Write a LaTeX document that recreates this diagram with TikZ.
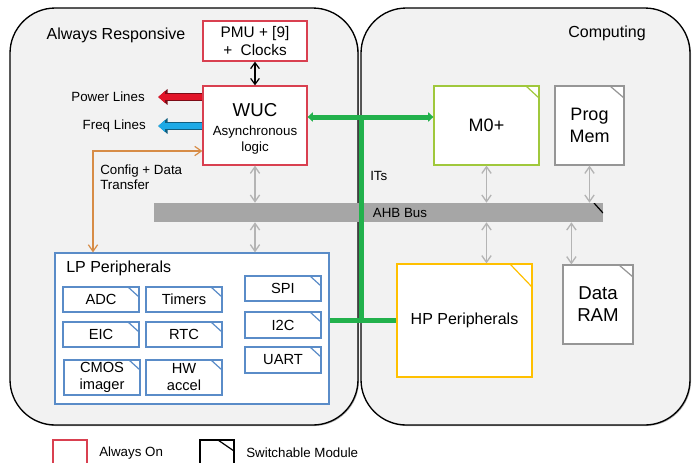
\documentclass[tikz,border=0pt]{standalone}
\usepackage{fontspec}
\setmainfont{Liberation Sans}
\usetikzlibrary{arrows.meta,positioning,shadows}
\newcommand\pxu{0.75pt}

\begin{document}
\begin{tikzpicture}[x=0.75pt,y=-0.75pt,
    every node/.style={inner sep=0pt, align=center},
    panel/.style n args={2}{draw=black, line width=1pt, fill=panelGray, rounded corners=34pt,
      drop shadow={shadow xshift=0.8pt, shadow yshift=-0.8pt, opacity=0.6},
      minimum width={#1*\pxu}, minimum height={#2*\pxu}},
    block/.style n args={3}{draw=#1, fill=white, line width=0.9pt,
      minimum width={#2*\pxu}, minimum height={#3*\pxu}},
    switchable/.style n args={3}{path picture={
      \draw[#1, line width=0.9pt] ([xshift={-#2*\pxu}]path picture bounding box.north east)
        -- ([yshift={-#3*\pxu}]path picture bounding box.north east);}},
    lp module/.style={block={lpBlue}{76}{#1}, switchable={lpBlue}{11}{10},
      font=\fontsize{11}{12.75}\selectfont},
    bus link/.style={draw=linkGray, line width=1pt,
      {Straight Barb[length=5pt,width=7pt]}-{Straight Barb[length=5pt,width=7pt]}},
    pmu link/.style={draw=black, line width=0.9pt,
      {Straight Barb[length=4.5pt,width=6.5pt]}-{Straight Barb[length=4.5pt,width=6.5pt]}},
    cfg link/.style={draw=cfgOrange, line width=0.9pt,
      {Straight Barb[length=5pt,width=7pt]}-{Straight Barb[length=5pt,width=7pt]}},
    it link/.style={draw=itGreen, line width=3.75pt},
    lines arrow/.style={draw=#1, line width=4.6pt, shorten >=0.9pt, -{Triangle[length=5pt,width=8.4pt]},
      preaction={draw=#1!55!black, line width=6pt, -{Triangle[length=7pt,width=11.5pt]}}},
    txt/.style={font=\fontsize{10}{11.5}\selectfont}
  ]
  \definecolor{panelGray}{RGB}{242,242,242}
  \definecolor{alwaysOnRed}{RGB}{217,64,80}
  \definecolor{lpBlue}{RGB}{90,140,200}
  \definecolor{itGreen}{RGB}{34,177,76}
  \definecolor{m0Green}{RGB}{160,200,60}
  \definecolor{hpYellow}{RGB}{255,192,0}
  \definecolor{modGray}{RGB}{150,150,150}
  \definecolor{linkGray}{RGB}{180,180,180}
  \definecolor{busGray}{RGB}{166,166,166}
  \definecolor{cfgOrange}{RGB}{215,140,70}
  \definecolor{powerRed}{RGB}{225,20,40}
  \definecolor{freqBlue}{RGB}{30,170,230}

  \useasboundingbox (0,0) rectangle (699,462);
  \clip (0,0) rectangle (699,462);

  % the two domains
  \node[panel={348}{417}] (arPanel) at (184,216.5) {};
  \node[panel={329}{417}] (compPanel) at (525.5,216.5) {};
  \node[font=\fontsize{12}{14}\selectfont] (arTitle) at (116,35) {Always Responsive};
  \node[font=\fontsize{12}{14}\selectfont] (compTitle) at (607,33) {Computing};

  \node[fill=busGray, minimum width={449*\pxu}, minimum height={19*\pxu},
    switchable={black}{9}{10}] (ahb) at (378.5,212.5) {};
  \node[txt] (ahbLbl) at (400,213) {AHB Bus};

  % always responsive
  \node[block={alwaysOnRed}{104}{40}, font=\fontsize{11.5}{14}\selectfont] (pmu) at (255,41)
    {PMU + [9]\\+\ \ Clocks};
  \node[block={alwaysOnRed}{104}{79}, font=\fontsize{10}{12}\selectfont] (wuc) at (255,125.5)
    {{\fontsize{14}{16}\selectfont\rule{0pt}{15pt}WUC}\\[2pt]Asynchronous\\logic};
  \node[block={lpBlue}{274}{151}] (lp) at (192,328.5) {};
  \node[font=\fontsize{12}{14}\selectfont, anchor=west] (lpLbl) at (66,268) {LP Peripherals};

  \node[lp module=25] (adc) at (101,299.5) {ADC};
  \node[lp module=25] (timers) at (184,299.5) {Timers};
  \node[lp module=25] (eic) at (101,334.5) {EIC};
  \node[lp module=25] (rtc) at (184,334.5) {RTC};
  \node[lp module=35] (cmos) at (102,377.5) {CMOS\\imager};
  \node[lp module=35] (hwacc) at (184,377.5) {HW\\accel};
  \node[lp module=25] (spi) at (283,288.5) {SPI};
  \node[lp module=26] (iic) at (283,325) {I2C};
  \node[lp module=26] (uart) at (283,360) {UART};

  \coordinate (pwrEnd) at (157,97);
  \coordinate (freqEnd) at (157,126);
  \draw[lines arrow=powerRed] (wuc.west |- pwrEnd) -- (pwrEnd);
  \draw[lines arrow=freqBlue] (wuc.west |- freqEnd) -- (freqEnd);
  \node[txt, anchor=east] (pwrLbl) at (145,97) {Power Lines};
  \node[txt, anchor=east] (freqLbl) at (146,126) {Freq Lines};

  \coordinate (cfgCorner) at (93,151);
  \draw[cfg link] (lp.north -| cfgCorner) -- (cfgCorner) -- (wuc.west |- cfgCorner);
  \node[txt, align=left, anchor=west] (cfgLbl) at (100,177.5) {Config + Data\\Transfer};
  \draw[pmu link] (pmu) -- (wuc);

  % computing
  \node[block={m0Green}{105}{79}, switchable={m0Green}{13}{12},
    font=\fontsize{13.5}{16}\selectfont] (m0) at (486.5,125.5) {M0+};
  \node[block={modGray}{69}{79}, switchable={modGray}{14}{12},
    font=\fontsize{13.5}{16}\selectfont] (prog) at (589.5,125.5) {Prog\\Mem};
  \node[block={hpYellow}{135}{113}, switchable={hpYellow}{22}{23},
    font=\fontsize{12}{14}\selectfont] (hp) at (464.5,320.5) {HP Peripherals};
  \node[block={modGray}{70}{79}, switchable={modGray}{14}{12},
    font=\fontsize{14}{16.5}\selectfont] (ram) at (598,304.5) {Data\\RAM};

  \draw[bus link] (wuc.south) -- (wuc |- ahb.north);
  \draw[bus link] (ahb.south -| wuc) -- (lp.north -| wuc);
  \draw[bus link] (m0.south) -- (m0 |- ahb.north);
  \draw[bus link] (ahb.south -| m0) -- (hp.north -| m0);
  \draw[bus link] (prog.south) -- (prog |- ahb.north);
  \draw[bus link] (ahb.south -| ram.north west) ++(9,0) -- ([xshift={9*\pxu}]ram.north west);

  % interrupt lines
  \coordinate (itTop) at (361,117);
  \coordinate (itBot) at (361,320);
  \draw[it link] (itTop) -- (itBot);
  \draw[it link, {Triangle[length=4pt,width=7pt]}-{Triangle[length=4pt,width=7pt]}]
    (wuc.east |- itTop) -- (m0.west |- itTop);
  \draw[it link] (lp.east |- itBot) -- (hp.west |- itBot);
  \node[txt, anchor=west] (itLbl) at (370,176) {ITs};

  % legend
  \node[block={alwaysOnRed}{34}{30}] (aOnKey) at (70,455) {};
  \node[txt, anchor=west] (aOnLbl) at (99,453) {Always On};
  \node[block={black}{34}{30}, switchable={black}{16}{11}] (swKey) at (217,455) {};
  \node[txt, anchor=west] (swLbl) at (246,453) {Switchable Module};
\end{tikzpicture}
\end{document}
